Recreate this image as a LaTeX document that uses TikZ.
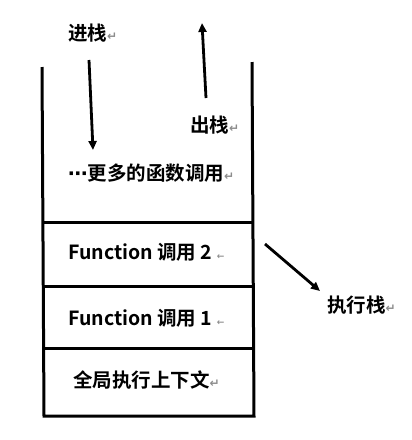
\documentclass[tikz,border=0pt]{standalone}
\usepackage{fontspec}
\newfontfamily\cjk{Noto Sans CJK SC}[BoldFont={Noto Sans CJK SC Bold}]
\newfontfamily\sym{DejaVu Sans}
\usetikzlibrary{arrows.meta}
\definecolor{markgray}{gray}{0.55}
\newcommand{\pmark}{{\sym\fontsize{12}{12}\selectfont\color{markgray}↵}}
\newcommand{\lmark}{{\sym\fontsize{9}{9}\selectfont\color{markgray}←}}
\newcommand{\cdotsmark}{{\sym\bfseries ⋯}}
\tikzset{
  wall/.style={line width=3pt},
  arr/.style={line width=2.8pt,-{Triangle[length=9pt,width=8pt]}},
  lbl/.style={font=\cjk\bfseries\fontsize{19.5}{19.5}\selectfont,inner sep=0pt,anchor=west},
}
\begin{document}
\begin{tikzpicture}[x=1pt,y=-1pt]
\useasboundingbox (0,0) rectangle (412,440);
% stack
\coordinate (lt) at (42,67);
\coordinate (lb) at (44,416);
\coordinate (rt) at (252,62);
\coordinate (rb) at (254,416);
\draw[wall] (lt) -- (lb) -- (rb) -- (rt);
\draw[wall] (43,222) -- (252,222);
\draw[wall] (43,286) -- (253,286);
\draw[wall] (44,348) -- (254,348);
% labels
\node[lbl] (push) at (68,33) {进栈\pmark};
\node[lbl] (pop) at (190,125) {出栈\pmark};
\node[lbl] (more) at (68,173) {\cdotsmark 更多的函数调用\pmark};
\node[lbl] (f2) at (68,252) {Function 调用 2 \lmark};
\node[lbl] (f1) at (68,318) {Function 调用 1 \lmark};
\node[lbl] (glob) at (73,380) {全局执行上下文\pmark};
\node[lbl] (es) at (327,305) {执行栈\pmark};
% arrows
\coordinate (a1s) at (89,60);
\coordinate (a1e) at (93,150);
\coordinate (a2s) at (206,98);
\coordinate (a2e) at (202,23);
\coordinate (a3s) at (265,244);
\coordinate (a3e) at (320,291);
\draw[arr] (a1s) -- (a1e);
\draw[arr] (a2s) -- (a2e);
\draw[arr] (a3s) -- (a3e);
\end{tikzpicture}
\end{document}
